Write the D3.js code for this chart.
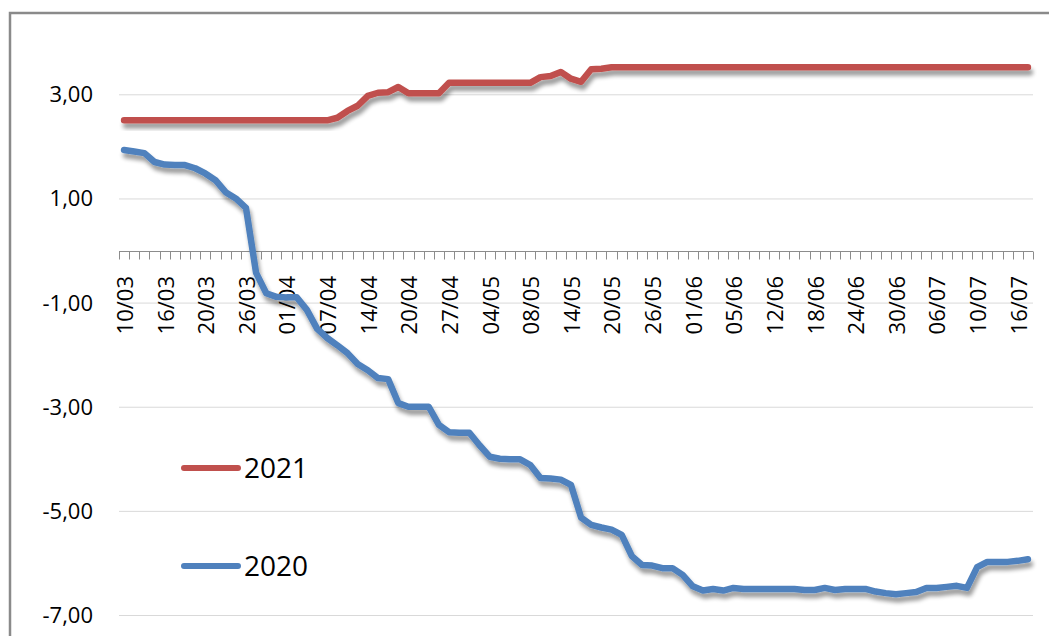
<!DOCTYPE html>
<html>
<head>
<meta charset="utf-8">
<script src="https://cdn.jsdelivr.net/npm/d3@7"></script>
<style>
  html, body { margin: 0; padding: 0; background: #ffffff; }
  svg { display: block; }
  text { font-family: "Open Sans", "Noto Sans", sans-serif; fill: #000; }
</style>
</head>
<body>
<svg id="chart" width="1049" height="636"></svg>
<script>
// ---- data ----
const categories = [
  "10/03","11/03","12/03","13/03","16/03","17/03","18/03","19/03","20/03","23/03",
  "24/03","25/03","26/03","27/03","30/03","31/03","01/04","02/04","03/04","06/04",
  "07/04","08/04","09/04","13/04","14/04","15/04","16/04","17/04","20/04","21/04",
  "22/04","23/04","27/04","28/04","29/04","30/04","04/05","05/05","06/05","07/05",
  "08/05","11/05","12/05","13/05","14/05","15/05","18/05","19/05","20/05","21/05",
  "22/05","25/05","26/05","27/05","28/05","29/05","01/06","02/06","03/06","04/06",
  "05/06","08/06","09/06","11/06","12/06","15/06","16/06","17/06","18/06","19/06",
  "22/06","23/06","24/06","25/06","26/06","29/06","30/06","01/07","02/07","03/07",
  "06/07","07/07","08/07","09/07","10/07","13/07","14/07","15/07","16/07","17/07"
];

const series2021 = [
  2.50,2.50,2.50,2.50,2.50,2.50,2.50,2.50,2.50,2.50,
  2.50,2.50,2.50,2.50,2.50,2.50,2.50,2.50,2.50,2.50,
  2.50,2.55,2.68,2.78,2.97,3.03,3.04,3.14,3.02,3.02,
  3.02,3.02,3.22,3.22,3.22,3.22,3.22,3.22,3.22,3.22,
  3.22,3.33,3.35,3.43,3.30,3.24,3.48,3.49,3.52,3.52,
  3.52,3.52,3.52,3.52,3.52,3.52,3.52,3.52,3.52,3.52,
  3.52,3.52,3.52,3.52,3.52,3.52,3.52,3.52,3.52,3.52,
  3.52,3.52,3.52,3.52,3.52,3.52,3.52,3.52,3.52,3.52,
  3.52,3.52,3.52,3.52,3.52,3.52,3.52,3.52,3.52,3.52
];

const series2020 = [
  1.93,1.90,1.87,1.70,1.65,1.64,1.64,1.58,1.48,1.35,
  1.12,1.00,0.82,-0.43,-0.82,-0.89,-0.90,-0.90,-1.14,-1.50,
  -1.68,-1.82,-1.97,-2.18,-2.30,-2.45,-2.47,-2.93,-3.00,-3.00,
  -3.00,-3.35,-3.49,-3.50,-3.50,-3.74,-3.96,-4.00,-4.01,-4.01,
  -4.12,-4.37,-4.38,-4.40,-4.50,-5.13,-5.27,-5.32,-5.36,-5.46,
  -5.87,-6.04,-6.05,-6.10,-6.10,-6.23,-6.45,-6.53,-6.50,-6.53,
  -6.48,-6.50,-6.50,-6.50,-6.50,-6.50,-6.50,-6.52,-6.52,-6.48,
  -6.52,-6.50,-6.50,-6.50,-6.55,-6.58,-6.60,-6.58,-6.56,-6.48,
  -6.48,-6.46,-6.44,-6.48,-6.08,-5.98,-5.98,-5.98,-5.96,-5.93
];

const yTicks = [3, 1, -1, -3, -5, -7];
const seriesNames = ["2021", "2020"];
const seriesColors = ["#C0504D", "#4F81BD"];

// ---- chart ----
const svg = d3.select("#chart");

const plot = { left: 119, right: 1033, top: 42, bottom: 615 };

const x = d3.scaleBand().domain(categories).range([plot.left, plot.right]).paddingInner(0).paddingOuter(0);
const y = d3.scaleLinear().domain([-7, 4]).range([615, 615 - 11 * 52.07]);

const defs = svg.append("defs");
const f = defs.append("filter").attr("id", "shadow")
  .attr("x", "-5%").attr("y", "-20%").attr("width", "110%").attr("height", "140%");
f.append("feGaussianBlur").attr("in", "SourceAlpha").attr("stdDeviation", 2.2).attr("result", "blur");
f.append("feOffset").attr("in", "blur").attr("dx", 1.5).attr("dy", 4.5).attr("result", "off");
f.append("feComponentTransfer").attr("in", "off").attr("result", "sh")
  .append("feFuncA").attr("type", "linear").attr("slope", 0.4);
const m = f.append("feMerge");
m.append("feMergeNode").attr("in", "sh");
m.append("feMergeNode").attr("in", "SourceGraphic");

// outer frame
svg.append("rect").attr("x", 10).attr("y", 13).attr("width", 1200).attr("height", 800)
  .attr("fill", "none").attr("stroke", "#8a8a8a").attr("stroke-width", 2.5);

// gridlines
svg.append("g").selectAll("line").data(yTicks).join("line")
  .attr("x1", plot.left).attr("x2", plot.right)
  .attr("y1", d => y(d) + 0.5).attr("y2", d => y(d) + 0.5)
  .attr("stroke", "#d9d9d9").attr("stroke-width", 1);

// y axis labels
const fmt = d => d3.format(".2f")(d).replace(".", ",").replace("−", "-");
svg.append("g").selectAll("text").data(yTicks).join("text")
  .attr("x", 93).attr("y", d => y(d))
  .attr("dy", "0.36em").attr("text-anchor", "end")
  .style("font-size", "22px")
  .text(fmt);

// x axis line with ticks at category boundaries
const y0 = Math.round(y(0)) + 0.5;
const xAxis = svg.append("g");
xAxis.append("line").attr("x1", plot.left).attr("x2", plot.right)
  .attr("y1", y0).attr("y2", y0).attr("stroke", "#8c8c8c").attr("stroke-width", 1);
const boundaries = categories.map(c => x(c)).concat([x.range()[1]]);
xAxis.selectAll("line.tick").data(boundaries).join("line").attr("class", "tick")
  .attr("x1", d => Math.round(d) + 0.5).attr("x2", d => Math.round(d) + 0.5)
  .attr("y1", y0).attr("y2", y0 + 8)
  .attr("stroke", "#8c8c8c").attr("stroke-width", 1);

// x labels every 4th category
const labelCats = categories.filter((c, i) => i % 4 === 0);
xAxis.selectAll("text").data(labelCats).join("text")
  .attr("transform", d => `translate(${x(d) + x.bandwidth() / 2 + 1},276) rotate(-90)`)
  .attr("text-anchor", "end").attr("dy", "0.36em")
  .style("font-size", "22px")
  .text(d => d);

// lines
const line = d3.line()
  .x((d, i) => x(categories[i]) + x.bandwidth() / 2)
  .y(d => y(d));

[series2021, series2020].forEach((s, k) => {
  svg.append("path").datum(s)
    .attr("d", line)
    .attr("fill", "none")
    .attr("stroke", seriesColors[k])
    .attr("stroke-width", 6.5)
    .attr("stroke-linecap", "round")
    .attr("stroke-linejoin", "round")
    .attr("filter", "url(#shadow)");
});

// legend
const legendY = [468, 566];
const lg = svg.append("g").selectAll("g").data(seriesNames).join("g");
lg.append("line")
  .attr("x1", 184).attr("x2", 238)
  .attr("y1", (d, i) => legendY[i]).attr("y2", (d, i) => legendY[i])
  .attr("stroke", (d, i) => seriesColors[i]).attr("stroke-width", 6)
  .attr("stroke-linecap", "round");
lg.append("text")
  .attr("x", 244).attr("y", (d, i) => legendY[i] + 10)
  .style("font-size", "28px")
  .text(d => d);
</script>
</body>
</html>
